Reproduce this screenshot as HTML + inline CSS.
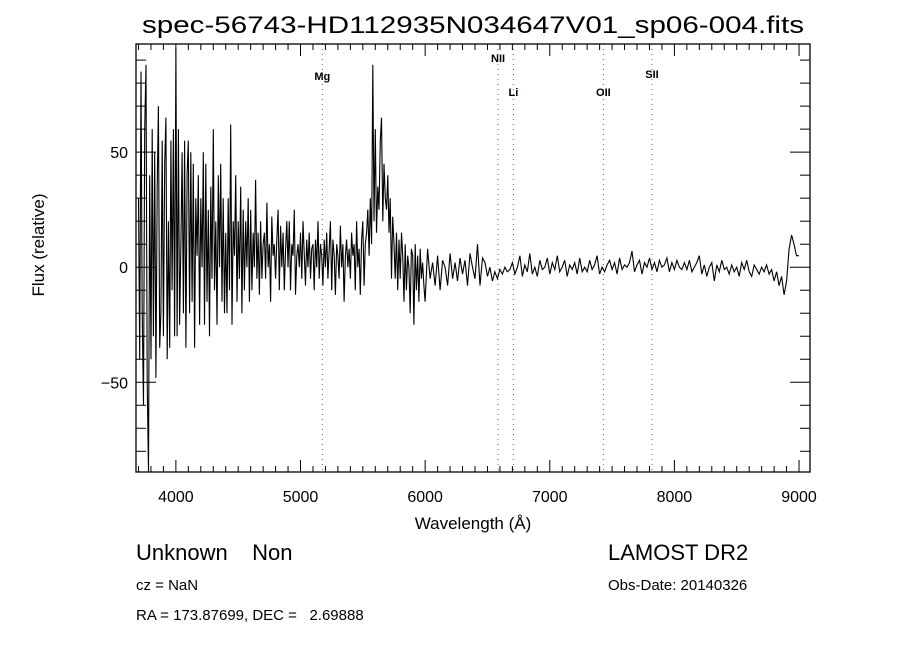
<!DOCTYPE html>
<html><head><meta charset="utf-8"><style>
html,body{margin:0;padding:0;background:#fff;width:900px;height:650px;overflow:hidden}
svg text{font-family:"Liberation Sans",sans-serif;fill:#000}
</style></head><body>
<svg id="chart" width="900" height="650" viewBox="0 0 900 650" xmlns="http://www.w3.org/2000/svg">
<text x="473" y="33" font-size="24" text-anchor="middle" textLength="662" lengthAdjust="spacingAndGlyphs">spec-56743-HD112935N034647V01_sp06-004.fits</text>
<text x="473" y="529" font-size="17" text-anchor="middle">Wavelength (Å)</text>
<text transform="translate(44,245) rotate(-90)" font-size="17" text-anchor="middle">Flux (relative)</text>
<text x="136" y="560" font-size="22" xml:space="preserve" style="white-space:pre">Unknown    Non</text>
<text x="608" y="560" font-size="22">LAMOST DR2</text>
<text x="136" y="590" font-size="15">cz = NaN</text>
<text x="608" y="590" font-size="15">Obs-Date: 20140326</text>
<text x="136" y="620" font-size="15" xml:space="preserve" style="white-space:pre">RA = 173.87699, DEC =   2.69888</text>
<g id="plot"></g>
</svg>
<script>
const blueStart = 3700, blueStep = 10;
const fluxBlue = [
30,-40,85,-20,-60,60,88,-50,-90,40,
-40,60,-30,50,-48,35,70,-35,-20,55,
-30,45,65,-40,20,-35,55,-10,60,-30,
95,-30,60,-25,10,50,-20,55,-35,40,
55,-20,50,-15,45,-35,30,5,40,-25,
30,0,50,-25,45,-15,25,-30,35,-5,
60,-10,20,-25,40,0,45,-15,30,-20,
15,-20,30,-10,62,-25,20,5,40,-15,
20,-5,35,-20,25,-10,20,0,30,-15,
25,-10,15,0,38,-5,15,-12,20,-5,
10,15,-5,28,0,10,-15,22,5,10,
-5,12,25,-10,18,0,15,-10,8,20,
0,20,-10,10,5,25,-12,5,10,0,
15,-5,20,5,-8,12,0,15,-5,8,
10,-10,12,0,20,-5,10,5,-8,12,
0,15,-5,8,20,-10,12,5,-12,10,
5,-5,18,0,10,-15,5,12,0,8,
-5,15,5,10,-10,20,0,8,-12,12,
20,-8,10,15,25,5,30,10,88,20,
60,15,35,25,55,65,20,45,30,25,
40,15,30,-5,22,10,-5,15,-10,12,
-5,15,5,-15,10,-10,5,0,-20,8,
5,-25,10,-10,5,-15,8,-5,2,-8];
const redStart = 6000, redStep = 20;
const fluxRed = [
-15,8,-5,2,-8,
5,-10,3,0,-8,6,-5,2,-6,4,
-3,3,-8,6,0,-5,10,-8,4,2,
-4,0,-6,-2,-5,-1,-3,0,-2,-1,
2,-3,0,5,-4,1,-2,6,-3,0,
-4,3,-1,0,4,-3,2,-1,5,-2,
0,3,-4,1,-1,2,-3,4,-2,0,
-2,3,-1,1,5,-3,0,-2,1,3,
-1,2,-3,4,-1,1,0,2,7,-2,
1,3,-3,2,0,4,-1,2,-2,3,
0,1,4,-2,2,-1,3,0,-1,2,
-1,3,-2,0,2,5,-3,1,-4,0,
2,-6,1,-2,3,-1,0,-3,1,-2,
0,-4,2,-1,3,-2,-4,1,-1,-3,
0,-2,1,-3,-1,-6,-2,-8,-4,-12,
-6,8,14,10,5,5];
const xTicks = [4000,5000,6000,7000,8000,9000];
const yTicks = [-50,0,50];
const lineNames = ["Mg","NII","Li","OII","SII"];
const lineWl = [5175,6585,6708,7430,7820];
const lineLabelY = [80,62,96,96,78];

const L=136,R=810,T=44,B=472;
const xMin=3680,xMax=9088,yMin=-89,yMax=97;
const X=w=>L+(w-xMin)/(xMax-xMin)*(R-L);
const Y=v=>B-(v-yMin)/(yMax-yMin)*(B-T);
const NS="http://www.w3.org/2000/svg";
const g=document.getElementById('plot');
function mk(t,a){const e=document.createElementNS(NS,t);for(const k in a)e.setAttribute(k,a[k]);g.appendChild(e);return e;}

lineNames.forEach((n,i)=>{
  const x=X(lineWl[i]);
  const l=mk('line',{x1:x,x2:x,y1:T,y2:B,stroke:'#a0522d','stroke-width':1,'stroke-dasharray':'1,4'});
  
  
  const t=mk('text',{x:x,y:lineLabelY[i],'font-size':11,'text-anchor':'middle','font-family':'Liberation Serif','font-weight':'bold'});
  t.textContent=n;
  
  
});

const pts=[];
fluxBlue.forEach((v,i)=>pts.push([blueStart+i*blueStep,v]));
fluxRed.forEach((v,i)=>pts.push([redStart+i*redStep,v]));
let d='';
pts.forEach((p,i)=>{d+=(i?'L':'M')+X(p[0]).toFixed(1)+','+Math.max(T,Math.min(B,Y(p[1]))).toFixed(1);});
const p=mk('path',{d:d,fill:'none',stroke:'#000','stroke-width':1.1});



const f=mk('rect',{x:L,y:T,width:R-L,height:B-T,fill:'none',stroke:'#000','stroke-width':1.3});



for(let w=3700;w<=9000;w+=100){
  const x=X(w),maj=w%1000===0,len=maj?12:6;
  mk('line',{x1:x,x2:x,y1:B,y2:B-len,stroke:'#000'});
  mk('line',{x1:x,x2:x,y1:T,y2:T+len,stroke:'#000'});
}
xTicks.forEach(w=>{
  const t=mk('text',{x:X(w),y:502,'font-size':16,'text-anchor':'middle'});
  t.textContent=w;
  
  
});
for(let v=-80;v<=90;v+=10){
  const y=Y(v),maj=v%50===0,len=maj?20:10;
  mk('line',{x1:L,x2:L+len,y1:y,y2:y,stroke:'#000'});
  mk('line',{x1:R,x2:R-len,y1:y,y2:y,stroke:'#000'});
}
yTicks.forEach(v=>{
  const t=mk('text',{x:128,y:Y(v)+6,'font-size':16,'text-anchor':'end'});
  t.textContent=v<0?'\u2212'+(-v):v;
  
  
});
</script>
</body></html>
